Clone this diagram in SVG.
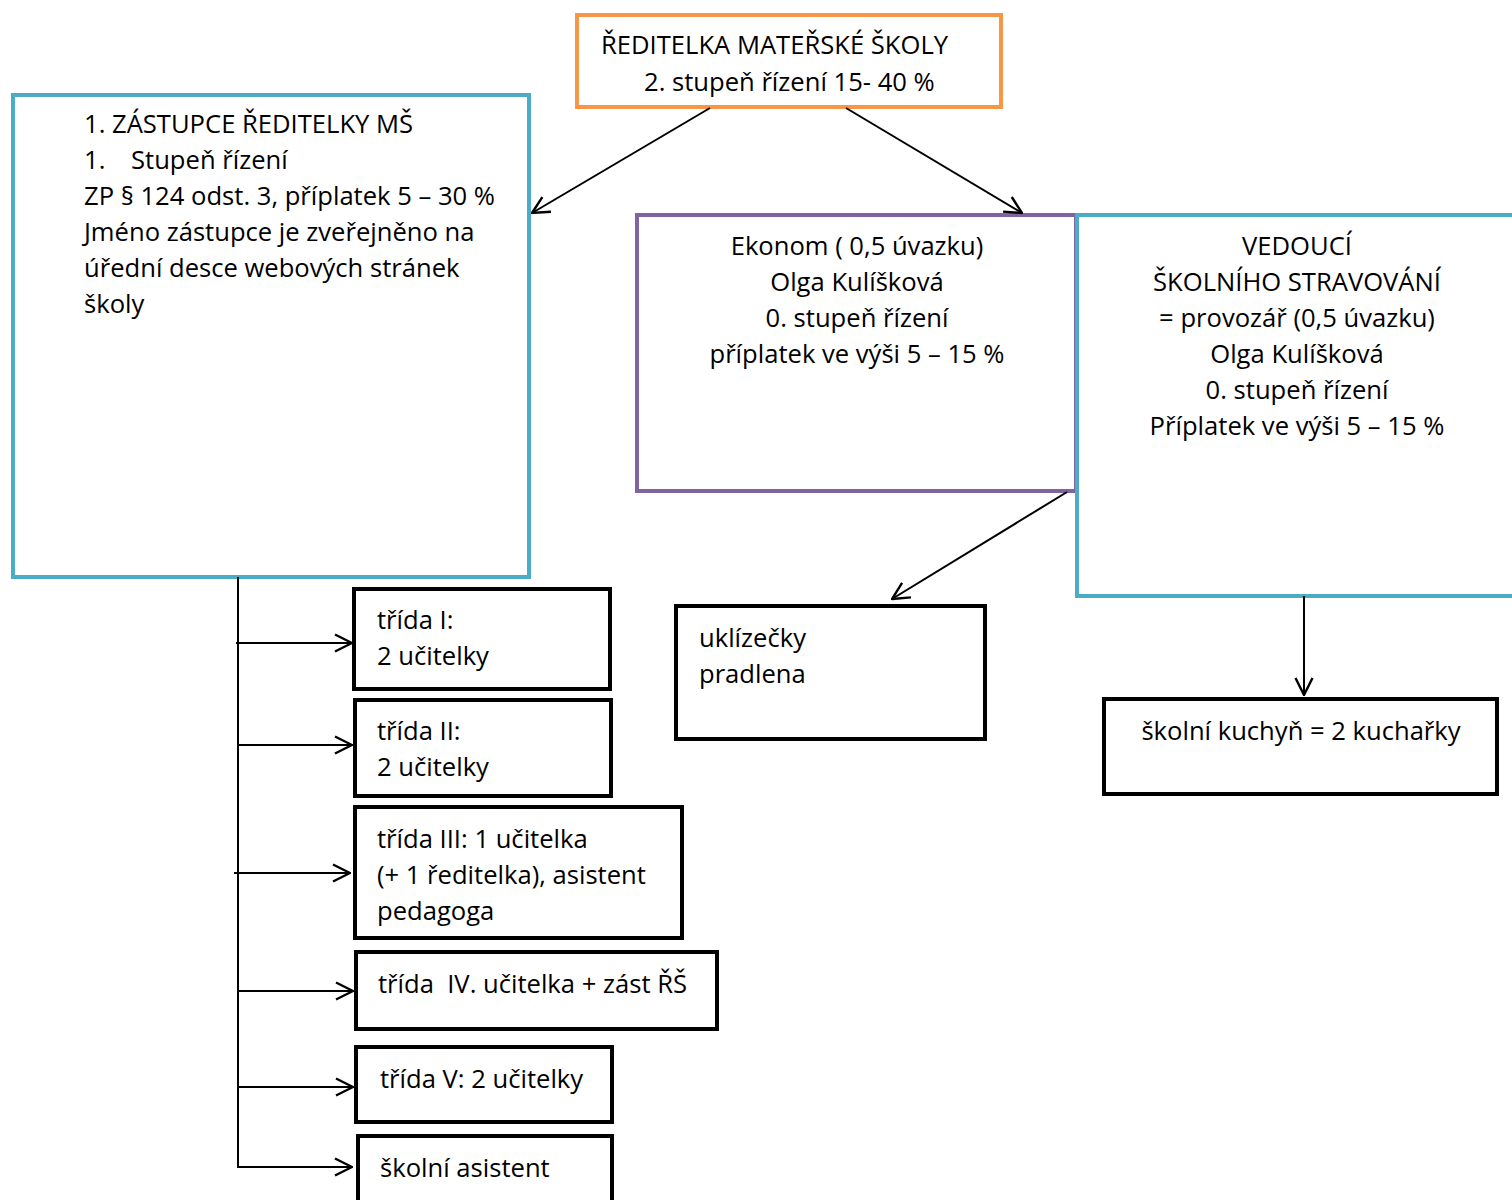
<svg xmlns="http://www.w3.org/2000/svg" width="1512" height="1200" viewBox="0 0 1512 1200">
<defs>
<marker id="ah" viewBox="0 0 20 20" refX="19" refY="10" markerWidth="20" markerHeight="20" markerUnits="userSpaceOnUse" orient="auto">
<path d="M2,1.5 L19,10 L2,18.5" fill="none" stroke="#000" stroke-width="2.4"/>
</marker>
<style>
text{font-family:"Open Sans","Noto Sans",sans-serif;font-size:25.6px;fill:#000}
.c{text-anchor:middle}
.box{fill:#fff;stroke:#000;stroke-width:4}
.blue{fill:#fff;stroke:#4BACC6;stroke-width:4}
.orange{fill:#fff;stroke:#F79646;stroke-width:4}
.purple{fill:#fff;stroke:#8064A2;stroke-width:4}
.con{fill:none;stroke:#000;stroke-width:2}
</style>
</defs>
<rect width="1512" height="1200" fill="#fff"/>
<g id="reditelka">
<rect class="orange" x="577" y="15" width="424" height="92"/>
<text x="601" y="54">ŘEDITELKA MATEŘSKÉ ŠKOLY</text>
<text x="644" y="91">2. stupeň řízení 15- 40 %</text>
</g>
<g id="zastupce">
<rect class="blue" x="13" y="95" width="516" height="482"/>
<text x="84" y="133">1. ZÁSTUPCE ŘEDITELKY MŠ</text>
<text x="84" y="169">1.<tspan x="131">Stupeň řízení</tspan></text>
<text x="84" y="205">ZP § 124 odst. 3, příplatek 5 – 30 %</text>
<text x="84" y="241">Jméno zástupce je zveřejněno na</text>
<text x="84" y="277">úřední desce webových stránek</text>
<text x="84" y="313">školy</text>
</g>
<g id="ekonom">
<rect class="purple" x="637" y="215" width="439" height="276"/>
<text class="c" x="857" y="255">Ekonom ( 0,5 úvazku)</text>
<text class="c" x="857" y="291">Olga Kulíšková</text>
<text class="c" x="857" y="327">0. stupeň řízení</text>
<text class="c" x="857" y="363">příplatek ve výši 5 – 15 %</text>
</g>
<g id="vedouci">
<rect class="blue" x="1077" y="215" width="445" height="381"/>
<text class="c" x="1297" y="255">VEDOUCÍ</text>
<text class="c" x="1297" y="291">ŠKOLNÍHO STRAVOVÁNÍ</text>
<text class="c" x="1297" y="327">= provozář (0,5 úvazku)</text>
<text class="c" x="1297" y="363">Olga Kulíšková</text>
<text class="c" x="1297" y="399">0. stupeň řízení</text>
<text class="c" x="1297" y="435">Příplatek ve výši 5 – 15 %</text>
</g>
<g id="trida1">
<rect class="box" x="354" y="589" width="256" height="100"/>
<text x="377" y="629">třída I:</text>
<text x="377" y="665">2 učitelky</text>
</g>
<g id="trida2">
<rect class="box" x="355" y="700" width="256" height="96"/>
<text x="377" y="740">třída II:</text>
<text x="377" y="776">2 učitelky</text>
</g>
<g id="trida3">
<rect class="box" x="355" y="807" width="327" height="131"/>
<text x="377" y="848">třída III: 1 učitelka</text>
<text x="377" y="884">(+ 1 ředitelka), asistent</text>
<text x="377" y="920">pedagoga</text>
</g>
<g id="trida4">
<rect class="box" x="356" y="952" width="361" height="77"/>
<text x="378" y="993" xml:space="preserve">třída  IV. učitelka + zást ŘŠ</text>
</g>
<g id="trida5">
<rect class="box" x="356" y="1047" width="256" height="75"/>
<text x="380" y="1088">třída V: 2 učitelky</text>
</g>
<g id="asistent">
<rect class="box" x="358" y="1136" width="254" height="80"/>
<text x="380" y="1177">školní asistent</text>
</g>
<g id="uklizecky">
<rect class="box" x="676" y="606" width="309" height="133"/>
<text x="699" y="647">uklízečky</text>
<text x="699" y="683">pradlena</text>
</g>
<g id="kuchyn">
<rect class="box" x="1104" y="699" width="393" height="95"/>
<text class="c" x="1301" y="740">školní kuchyň = 2 kuchařky</text>
</g>
<g id="connectors">
<line class="con" x1="710" y1="108" x2="532" y2="213" marker-end="url(#ah)"/>
<line class="con" x1="846" y1="108" x2="1022" y2="213" marker-end="url(#ah)"/>
<line class="con" x1="1067" y1="492" x2="892" y2="599" marker-end="url(#ah)"/>
<line class="con" x1="1304" y1="596" x2="1304" y2="695" marker-end="url(#ah)"/>
<path class="con" d="M238,577 V1167 H352" marker-end="url(#ah)"/>
<line class="con" x1="236" y1="643" x2="352" y2="643" marker-end="url(#ah)"/>
<line class="con" x1="237" y1="745" x2="352" y2="745" marker-end="url(#ah)"/>
<line class="con" x1="234" y1="873" x2="350" y2="873" marker-end="url(#ah)"/>
<line class="con" x1="238" y1="991" x2="353" y2="991" marker-end="url(#ah)"/>
<line class="con" x1="238" y1="1087" x2="353" y2="1087" marker-end="url(#ah)"/>
</g>
</svg>
